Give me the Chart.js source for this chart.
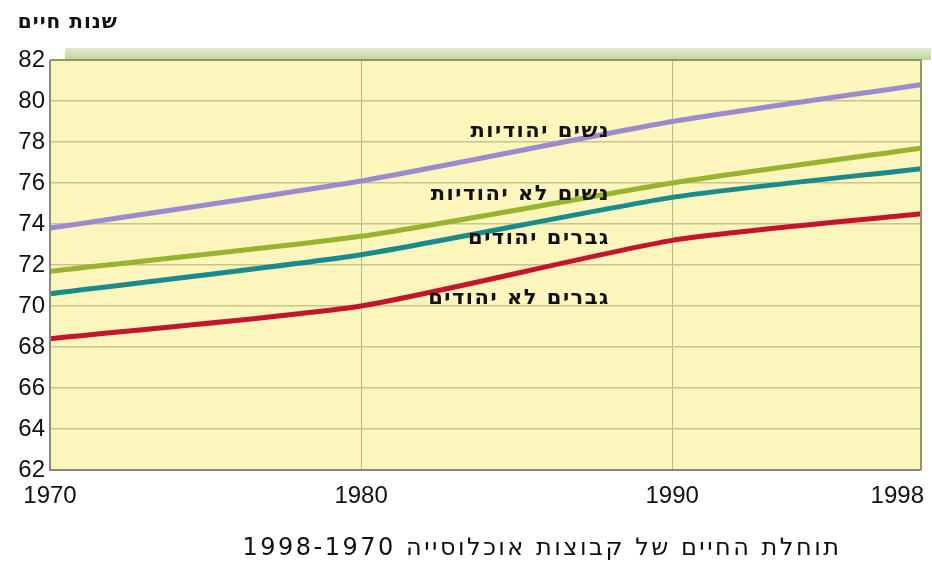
<!DOCTYPE html>
<html>
<head>
<meta charset="utf-8">
<script src="https://cdn.jsdelivr.net/npm/chart.js@4/dist/chart.umd.min.js"></script>
<style>
  html, body { margin: 0; padding: 0; background: #fff; }
  #wrap { width: 932px; height: 562px; }
</style>
</head>
<body>
<div id="wrap"><canvas id="lifeChart" width="932" height="562"></canvas></div>
<script>
// data
const years = [1970, 1980, 1990, 1998];
const yTicks = [62, 64, 66, 68, 70, 72, 74, 76, 78, 80, 82];

const jewishWomen = [73.8, 76.1, 79.0, 80.8];
const nonJewishWomen = [71.7, 73.4, 76.0, 77.7];
const jewishMen = [70.6, 72.5, 75.3, 76.7];
const nonJewishMen = [68.4, 70.0, 73.2, 74.5];

const seriesNames = ['נשים יהודיות', 'נשים לא יהודיות', 'גברים יהודים', 'גברים לא יהודים'];
// where each series name sits (year, value)
const labelYears = [1988, 1988, 1988, 1988];
const labelValues = [78.5, 75.45, 73.3, 70.35];

const yTitle = 'שנות חיים';
const chartTitle = 'תוחלת החיים של קבוצות אוכלוסייה 1998-1970';

const colors = ['#9c8ad0', '#96b42c', '#1b8a8c', '#c4142e'];
const hebFont = '"DejaVu Sans", "Liberation Sans", sans-serif';
const numFont = '"Liberation Sans", Arial, sans-serif';

function toPoints(vals) {
    return years.map((y, i) => ({ x: y, y: vals[i] }));
}

const allSeries = [jewishWomen, nonJewishWomen, jewishMen, nonJewishMen];

// background, frame and free texts
const decorPlugin = {
    id: 'decor',
    beforeDraw(chart) {
        const { ctx, chartArea: a } = chart;
        ctx.save();
        // top green wall
        const g = ctx.createLinearGradient(0, a.top - 12, 0, a.top);
        g.addColorStop(0, '#e4edcf');
        g.addColorStop(1, '#bfd29a');
        ctx.fillStyle = g;
        ctx.fillRect(a.left + 15, a.top - 12, a.right - a.left - 5, 12);
        // plot background
        ctx.fillStyle = '#fcf5bc';
        ctx.fillRect(a.left, a.top, a.right - a.left, a.bottom - a.top);
        ctx.restore();
    },
    afterDraw(chart) {
        const { ctx, chartArea: a, scales } = chart;
        ctx.save();
        // frame
        ctx.strokeStyle = '#8c9a62';
        ctx.lineWidth = 2;
        ctx.beginPath();
        ctx.moveTo(a.left, a.top);
        ctx.lineTo(a.right, a.top);
        ctx.lineTo(a.right, a.bottom);
        ctx.stroke();
        ctx.strokeStyle = '#8a8a80';
        ctx.beginPath();
        ctx.moveTo(a.left, a.top);
        ctx.lineTo(a.left, a.bottom);
        ctx.lineTo(a.right, a.bottom);
        ctx.stroke();

        // series names
        ctx.fillStyle = '#111';
        ctx.font = 'bold 21px ' + hebFont;
        ctx.letterSpacing = '1.5px';
        ctx.textAlign = 'right';
        ctx.textBaseline = 'middle';
        seriesNames.forEach((name, i) => {
            const x = scales.x.getPixelForValue(labelYears[i]);
            const y = scales.y.getPixelForValue(labelValues[i]);
            ctx.fillText(name, x, y);
        });

        // x tick labels, kept inside the canvas
        ctx.letterSpacing = '0px';
        ctx.font = '24px ' + numFont;
        ctx.fillStyle = '#111';
        ctx.textAlign = 'center';
        ctx.textBaseline = 'middle';
        years.forEach(yr => {
            let x = scales.x.getPixelForValue(yr);
            const w = ctx.measureText(String(yr)).width;
            x = Math.max(w / 2 + 4, Math.min(chart.width - w / 2 - 8, x));
            ctx.fillText(String(yr), x, a.bottom + 26);
        });

        // axis title top-left
        ctx.font = 'bold 20px ' + hebFont;
        ctx.letterSpacing = '1px';
        ctx.textAlign = 'right';
        ctx.fillText(yTitle, a.left + 68, 23);

        // chart title at bottom
        ctx.font = '24px ' + hebFont;
        ctx.letterSpacing = '2.5px';
        ctx.textAlign = 'center';
        ctx.fillText(chartTitle, 542, 549);
        ctx.restore();
    }
};

const ctx = document.getElementById('lifeChart').getContext('2d');

const lifeChart = new Chart(ctx, {
    type: 'line',
    data: {
        datasets: allSeries.map((vals, i) => ({
            label: seriesNames[i],
            data: toPoints(vals),
            borderColor: colors[i],
            borderWidth: 5,
            pointRadius: 0,
            tension: 0.2,
            fill: false
        }))
    },
    options: {
        responsive: false,
        animation: false,
        devicePixelRatio: 1,
        layout: { padding: { top: 60, right: 11, left: 0, bottom: 0 } },
        plugins: {
            legend: { display: false },
            tooltip: { enabled: false }
        },
        scales: {
            x: {
                type: 'linear',
                min: years[0],
                max: years[years.length - 1],
                afterBuildTicks: s => { s.ticks = years.map(v => ({ value: v })); },
                afterFit: s => { s.height = 92; },
                grid: { color: '#b4b98a', lineWidth: 1, drawTicks: false },
                border: { display: false },
                ticks: { display: false }
            },
            y: {
                min: 62,
                max: 82,
                afterBuildTicks: s => { s.ticks = yTicks.map(v => ({ value: v })); },
                afterFit: s => { s.width = 50; },
                grid: { color: '#c9c48c', lineWidth: 1.5, drawTicks: false },
                border: { display: false },
                ticks: {
                    padding: 5,
                    color: '#111',
                    font: { family: numFont, size: 24 }
                }
            }
        }
    },
    plugins: [decorPlugin]
});
</script>
</body>
</html>
